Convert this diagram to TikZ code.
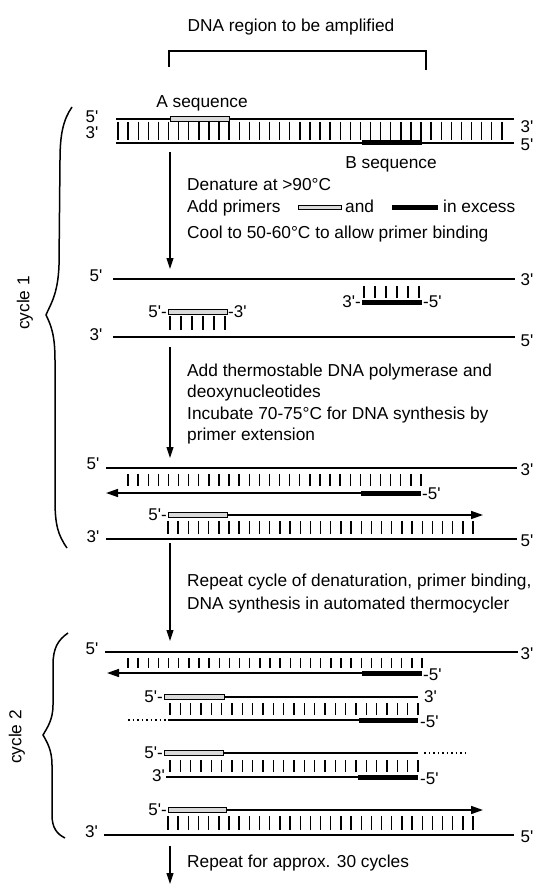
\documentclass[tikz,border=0pt]{standalone}
\usepackage{fontspec}
\setmainfont{Liberation Sans}[Ligatures=TeXOff]
\usetikzlibrary{arrows.meta}
\begin{document}
\begin{tikzpicture}[x=1pt,y=-1pt,
  txt/.style={font=\fontsize{17.3}{20}\selectfont, inner sep=0pt},
  lbl/.style={font=\fontsize{17}{20}\selectfont, inner sep=0pt},
  strand/.style={line width=1.5pt},
  rung/.style={line width=1.4pt},
  primA/.style={draw, line width=1pt, fill=gray!30},
  primB/.style={fill=black},
  flow/.style={line width=1.1pt, -{Triangle[length=11pt,width=7pt]}},
  ext/.style={line width=1.5pt, -{Triangle[length=12pt,width=8pt]}},
  dots/.style={line width=1.5pt, dash pattern=on 1.5pt off 3pt},
  brace/.style={line width=1.5pt},
  bracket/.style={line width=1.4pt}
]
\useasboundingbox (0,0) rectangle (537,885);

% ---------- title and bracket
\node[txt, anchor=base] (title) at (291,32) {DNA region to be amplified};
\coordinate (brL) at (169,67);
\coordinate (brR) at (426,70);
\draw[bracket] (brL) -- (169,51) -- (426,51) -- (brR);

% ---------- original duplex
\node[txt] (aseq) at (202,103) {A sequence};
\node[txt] (bseq) at (391,164) {B sequence};
\coordinate (d0tL) at (116,119); \coordinate (d0tR) at (514,119);
\coordinate (d0bL) at (116,143); \coordinate (d0bR) at (514,143);
\draw[strand] (d0tL) -- (d0tR);
\draw[strand] (d0bL) -- (d0bR);
\foreach \i in {0,...,38} \draw[rung] (118+\i*10.1,122) -- (118+\i*10.1,140);
\draw[primA] (170,116.5) rectangle (229,121.5);
\fill[primB] (362,140.5) rectangle (422,145.5);
\node[lbl] (d0l5) at (92,117) {5'};
\node[lbl] (d0l3) at (92,133) {3'};
\node[lbl] (d0r3) at (527,127) {3'};
\node[lbl] (d0r5) at (527,145) {5'};

% ---------- step 1
\coordinate (a1s) at (170,152); \coordinate (a1e) at (170,269);
\draw[flow] (a1s) -- (a1e);
\node[txt, anchor=base west] (s1a) at (187,191) {Denature at >90°C};
\node[txt, anchor=base west] (s1b) at (187,213) {Add primers};
\draw[primA] (298,205.5) rectangle (341,210);
\node[txt, anchor=base west] (s1and) at (345,213) {and};
\fill[primB] (392,205.5) rectangle (438,210);
\node[txt, anchor=base west] (s1c) at (443,213) {in excess};
\node[txt, anchor=base west] (s1d) at (187,238) {Cool to 50-60°C to allow primer binding};

% ---------- denatured with primers
\coordinate (d1tL) at (113,279); \coordinate (d1tR) at (515,279);
\draw[strand] (d1tL) -- (d1tR);
\node[lbl] at (96,276) {5'};
\node[lbl] at (527,280) {3'};
\foreach \i in {0,...,5} \draw[rung] (364+\i*11,286) -- (364+\i*11,298);
\fill[primB] (362,299.5) rectangle (422,304.5);
\node[lbl, anchor=east] at (361,302) {3'-};
\node[lbl, anchor=west] at (423,302) {-5'};
\draw[primA] (168,309.5) rectangle (227,314.5);
\node[lbl, anchor=east] at (167,312) {5'-};
\node[lbl, anchor=west] at (228,312) {-3'};
\foreach \i in {0,...,5} \draw[rung] (170+\i*11,316) -- (170+\i*11,330);
\coordinate (d1bL) at (113,337); \coordinate (d1bR) at (515,337);
\draw[strand] (d1bL) -- (d1bR);
\node[lbl] at (96,335) {3'};
\node[lbl] at (527,341) {5'};

% ---------- step 2
\coordinate (a2s) at (170,347); \coordinate (a2e) at (170,458);
\draw[flow] (a2s) -- (a2e);
\node[txt, anchor=base west] (s2a) at (187,376) {Add thermostable DNA polymerase and};
\node[txt, anchor=base west] (s2b) at (187,397.5) {deoxynucleotides};
\node[txt, anchor=base west] (s2c) at (187,419) {Incubate 70-75°C for DNA synthesis by};
\node[txt, anchor=base west] (s2d) at (187,440.5) {primer extension};

% ---------- extension (cycle 1)
\coordinate (e1tL) at (106,468); \coordinate (e1tR) at (517,468);
\draw[strand] (e1tL) -- (e1tR);
\node[lbl] at (93,464) {5'};
\node[lbl] at (527,470) {3'};
\foreach \i in {0,...,29} \draw[rung] (128+\i*10.1,474) -- (128+\i*10.1,486);
\coordinate (e1nR) at (421,493); \coordinate (e1nL) at (106,493);
\draw[ext] (e1nR) -- (e1nL);
\fill[primB] (361,490.5) rectangle (421,495.5);
\node[lbl, anchor=west] at (422,494) {-5'};
\node[lbl, anchor=east] at (167,515) {5'-};
\coordinate (e1mL) at (227,515); \coordinate (e1mR) at (483,515);
\draw[ext] (e1mL) -- (e1mR);
\draw[primA] (168,512.5) rectangle (227,517.5);
\foreach \i in {0,...,30} \draw[rung] (168+\i*10.17,521) -- (168+\i*10.17,534);
\coordinate (e1bL) at (106,539); \coordinate (e1bR) at (517,539);
\draw[strand] (e1bL) -- (e1bR);
\node[lbl] at (93,537) {3'};
\node[lbl] at (527,541) {5'};

% ---------- step 3
\coordinate (a3s) at (170,543); \coordinate (a3e) at (170,641);
\draw[flow] (a3s) -- (a3e);
\node[txt, anchor=base west] (s3a) at (187,586.5) {Repeat cycle of denaturation, primer binding,};
\node[txt, anchor=base west] (s3b) at (187,609) {DNA synthesis in automated thermocycler};

% ---------- cycle 2
\coordinate (c2tL) at (105,652); \coordinate (c2tR) at (518,652);
\draw[strand] (c2tL) -- (c2tR);
\node[lbl] at (92,649) {5'};
\node[lbl] at (527,654) {3'};
\foreach \i in {0,...,29} \draw[rung] (128+\i*10.14,658) -- (128+\i*10.14,668);
\coordinate (c2nR) at (422,673); \coordinate (c2nL) at (107,673);
\draw[ext] (c2nR) -- (c2nL);
\fill[primB] (362,670.5) rectangle (422,675.5);
\node[lbl, anchor=west] at (423,675) {-5'};

\node[lbl, anchor=east] at (163,697) {5'-};
\coordinate (g2tL) at (224,697); \coordinate (g2tR) at (418,697);
\draw[strand] (g2tL) -- (g2tR);
\draw[primA] (164,694.5) rectangle (224,699.5);
\node[lbl, anchor=west] at (424,697) {3'};
\foreach \i in {0,...,24} \draw[rung] (170+\i*10.33,703) -- (170+\i*10.33,715);
\coordinate (g2bL) at (168,720); \coordinate (g2bR) at (418,720);
\coordinate (g2dL) at (128,720); \coordinate (g2dR) at (166,720);
\draw[strand] (g2bL) -- (g2bR);
\draw[dots] (g2dL) -- (g2dR);
\fill[primB] (359,717.5) rectangle (418,722.5);
\node[lbl, anchor=west] at (420,722) {-5'};

\node[lbl, anchor=east] at (163,753) {5'-};
\coordinate (g3tL) at (223,753); \coordinate (g3tR) at (418,753);
\coordinate (g3dL) at (424,753); \coordinate (g3dR) at (467,753);
\draw[strand] (g3tL) -- (g3tR);
\draw[dots] (g3dL) -- (g3dR);
\draw[primA] (164,750.5) rectangle (223,755.5);
\foreach \i in {0,...,24} \draw[rung] (170+\i*10.33,760) -- (170+\i*10.33,772);
\node[lbl, anchor=east] at (165,776) {3'};
\coordinate (g3bL) at (166,777); \coordinate (g3bR) at (418,777);
\draw[strand] (g3bL) -- (g3bR);
\fill[primB] (358,774.5) rectangle (418,779.5);
\node[lbl, anchor=west] at (420,779) {-5'};

\node[lbl, anchor=east] at (167,810) {5'-};
\coordinate (g4mL) at (226,810); \coordinate (g4mR) at (483,810);
\draw[ext] (g4mL) -- (g4mR);
\draw[primA] (168,807.5) rectangle (226,812.5);
\foreach \i in {0,...,30} \draw[rung] (168+\i*10.17,816) -- (168+\i*10.17,830);
\coordinate (g4bL) at (104,835); \coordinate (g4bR) at (514,835);
\draw[strand] (g4bL) -- (g4bR);
\node[lbl, anchor=east] at (98,832) {3'};
\node[lbl] at (527,837) {5'};

% ---------- step 4
\coordinate (a4s) at (170,846); \coordinate (a4e) at (170,884);
\draw[flow] (a4s) -- (a4e);
\node[txt, anchor=base west] (s4a) at (187,867) {Repeat for approx. 30 cycles};

% ---------- braces
\draw[brace] (72,107) .. controls (63,120) and (60,135) .. (60,160) -- (59,265)
  .. controls (58,295) and (50,305) .. (46,315)
  .. controls (51,325) and (55,335) .. (55,360) -- (55,500)
  .. controls (55,525) and (58,535) .. (67,548);
\node[txt, rotate=90] (cyc1) at (25,303) {cycle 1};
\draw[brace] (68,633) .. controls (58,640) and (53,648) .. (53,665) -- (53,705)
  .. controls (53,720) and (47,728) .. (43,735)
  .. controls (47,742) and (52,750) .. (52,765) -- (52,815)
  .. controls (52,828) and (57,834) .. (65,838);
\node[txt, rotate=90] (cyc2) at (17,737) {cycle 2};
\end{tikzpicture}
\end{document}
